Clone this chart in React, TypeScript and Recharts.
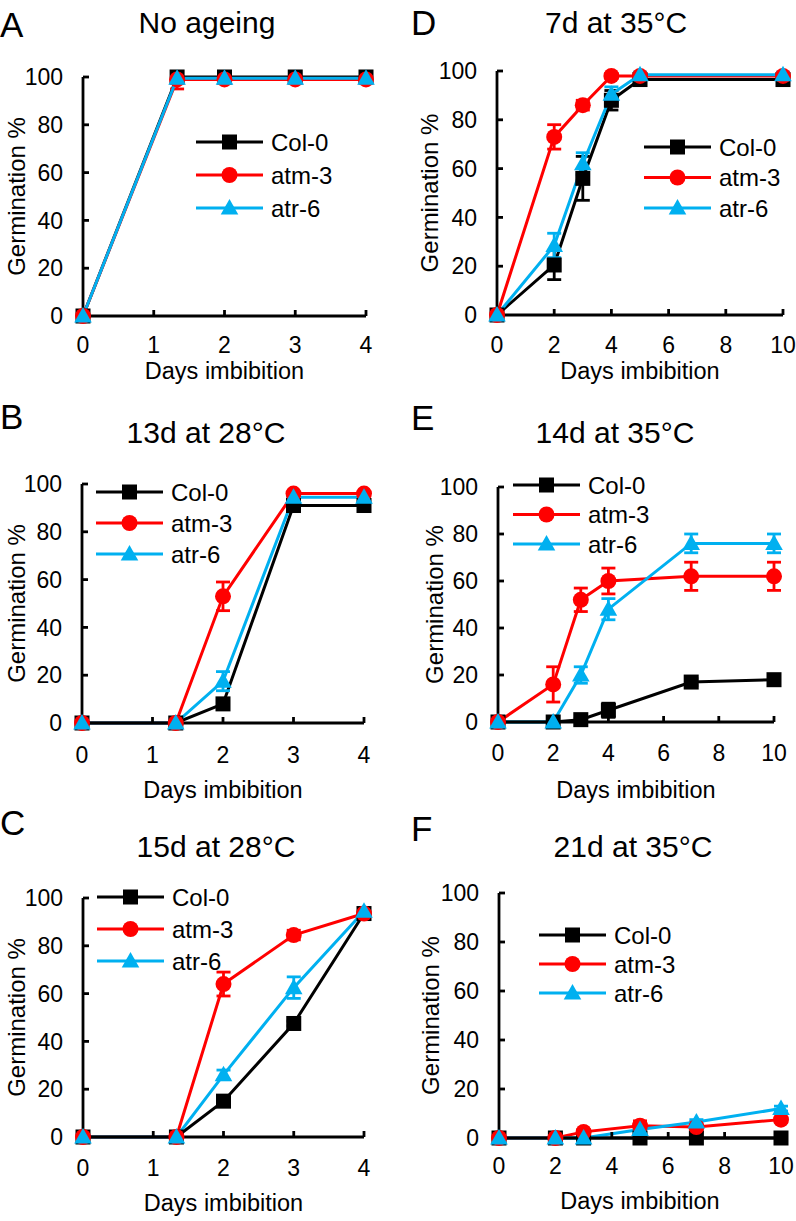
import React from 'react';
import { LineChart, Line, XAxis, YAxis, ErrorBar, Legend } from 'recharts';

const FONT = '"Liberation Sans", Arial, Helvetica, sans-serif';
const BLACK = '#000000';
const RED = '#ff0000';
const CYAN = '#00b0f0';

const seriesNames = ['Col-0', 'atm-3', 'atr-6'];
const yTicks = [0, 20, 40, 60, 80, 100];
const xTicksShort = [0, 1, 2, 3, 4];
const xTicksLong = [0, 2, 4, 6, 8, 10];
const yLabel = 'Germination %';
const xLabel = 'Days imbibition';

// Panel A – No ageing
const daysA = [0, 1.33, 2, 3, 4];
const col0A = [0, 100, 100, 100, 100];
const atm3A = [0, 99, 99, 99, 99];
const atr6A = [0, 99.5, 99.5, 99.5, 99.5];
const col0ErrA = [0, 0, 0, 0, 0];
const atm3ErrA = [0, [4, 1], 0, 0, 0];
const atr6ErrA = [0, 0, 0, 0, 0];

// Panel B – 13d at 28°C
const daysB = [0, 1.33, 2, 3, 4];
const col0B = [0, 0, 8, 91, 91];
const atm3B = [0, 0, 53, 96, 96];
const atr6B = [0, 0, 17.5, 94.5, 94.5];
const col0ErrB = [0, 0, 1, 1, 1];
const atm3ErrB = [0, 0, 6, 0.5, 0.5];
const atr6ErrB = [0, 0, 4, 0.5, 0.5];

// Panel C – 15d at 28°C
const daysC = [0, 1.33, 2, 3, 4];
const col0C = [0, 0, 15, 47.5, 93.5];
const atm3C = [0, 0, 64, 84.5, 93.5];
const atr6C = [0, 0, 26, 62.5, 94.5];
const col0ErrC = [0, 0, 1, 1, 1];
const atm3ErrC = [0, 0, 5, 2, 1];
const atr6ErrC = [0, 0, 2, 4.5, 1];

// Panel D – 7d at 35°C
const daysD = [0, 2, 3, 4, 5, 10];
const col0D = [0, 20.5, 56, 88, 96.5, 96.5];
const atm3D = [0, 73, 86, 98, 98, 98];
const atr6D = [0, 28.5, 62, 90.5, 98.5, 98.5];
const col0ErrD = [0, 6, 9, 4, 1, 1];
const atm3ErrD = [0, 5, 2, 1, 1, 1];
const atr6ErrD = [0, 5, 4.5, 3, 1, 1];

// Panel E – 14d at 35°C
const daysE = [0, 2, 3, 4, 7, 10];
const col0E = [0, 0, 1, 5, 17, 18];
const atm3E = [0, 16, 52, 60, 62, 62];
const atr6E = [0, 0, 20, 48, 76, 76];
const col0ErrE = [0, 0, 0.5, 3, 1.5, 1.5];
const atm3ErrE = [0, 7.5, 5, 5.5, 6, 6];
const atr6ErrE = [0, 0, 3.5, 4.5, 4, 4];

// Panel F – 21d at 35°C
const daysF = [0, 2, 3, 5, 7, 10];
const col0F = [0, 0, 0, 0, 0, 0];
const atm3F = [0, 0, 2.5, 5, 4.5, 7.5];
const atr6F = [0, 0, 0, 3.5, 6.5, 12];
const col0ErrF = [0, 0, 0, 0, 0, 0];
const atm3ErrF = [0, 0, 1, 2, 2, 1];
const atr6ErrF = [0, 0, 0, 1, 1, 1];

const buildTable = (days, c, m, r, ce, me, re) =>
  days.map((d, i) => ({
    day: d,
    col0: c[i],
    atm3: m[i],
    atr6: r[i],
    col0Err: ce[i],
    atm3Err: me[i],
    atr6Err: re[i],
  }));

const panels = [
  {
    letter: 'A', title: 'No ageing', xMax: 4, xTicks: xTicksShort,
    data: buildTable(daysA, col0A, atm3A, atr6A, col0ErrA, atm3ErrA, atr6ErrA),
    left: 0, top: 0, plot: { x0: 83, x1: 366, y0: 77, y1: 316 }, tickCap: 21,
    titlePos: { x: 207, y: 33 }, letterPos: { x: 0, y: 37 }, xLabelY: 379, yLabelX: 25,
    legend: { x: 196, y: 142, gap: 33 },
  },
  {
    letter: 'B', title: '13d at 28°C', xMax: 4, xTicks: xTicksShort,
    data: buildTable(daysB, col0B, atm3B, atr6B, col0ErrB, atm3ErrB, atr6ErrB),
    left: 0, top: 400, plot: { x0: 82, x1: 364, y0: 484, y1: 723 }, tickCap: 24,
    titlePos: { x: 206, y: 443 }, letterPos: { x: 0, y: 429 }, xLabelY: 798, yLabelX: 25,
    legend: { x: 96, y: 492, gap: 31 },
  },
  {
    letter: 'C', title: '15d at 28°C', xMax: 4, xTicks: xTicksShort,
    data: buildTable(daysC, col0C, atm3C, atr6C, col0ErrC, atm3ErrC, atr6ErrC),
    left: 0, top: 820, plot: { x0: 83, x1: 364, y0: 898, y1: 1137 }, tickCap: 23,
    titlePos: { x: 216, y: 857 }, letterPos: { x: 0, y: 835 }, xLabelY: 1211, yLabelX: 25,
    legend: { x: 97, y: 897, gap: 32 },
  },
  {
    letter: 'D', title: '7d at 35°C', xMax: 10, xTicks: xTicksLong,
    data: buildTable(daysD, col0D, atm3D, atr6D, col0ErrD, atm3ErrD, atr6ErrD),
    left: 398, top: 0, plot: { x0: 497, x1: 783, y0: 71, y1: 315 }, tickCap: 22,
    titlePos: { x: 616, y: 33 }, letterPos: { x: 411, y: 35 }, xLabelY: 379, yLabelX: 438,
    legend: { x: 644, y: 147, gap: 30.5 },
  },
  {
    letter: 'E', title: '14d at 35°C', xMax: 10, xTicks: xTicksLong,
    data: buildTable(daysE, col0E, atm3E, atr6E, col0ErrE, atm3ErrE, atr6ErrE),
    left: 398, top: 400, plot: { x0: 498, x1: 774, y0: 487, y1: 722 }, tickCap: 23,
    titlePos: { x: 615, y: 443 }, letterPos: { x: 411, y: 430 }, xLabelY: 798, yLabelX: 443,
    legend: { x: 513, y: 485, gap: 29.5 },
  },
  {
    letter: 'F', title: '21d at 35°C', xMax: 10, xTicks: xTicksLong,
    data: buildTable(daysF, col0F, atm3F, atr6F, col0ErrF, atm3ErrF, atr6ErrF),
    left: 398, top: 820, plot: { x0: 499, x1: 781, y0: 893, y1: 1138 }, tickCap: 20,
    titlePos: { x: 633, y: 857 }, letterPos: { x: 411, y: 841 }, xLabelY: 1209, yLabelX: 439,
    legend: { x: 539, y: 935, gap: 29 },
  },
];

const seriesDefs = [
  { key: 'col0', name: seriesNames[0], color: BLACK, shape: 'square' },
  { key: 'atm3', name: seriesNames[1], color: RED, shape: 'circle' },
  { key: 'atr6', name: seriesNames[2], color: CYAN, shape: 'triangle' },
];

function Marker({ shape, cx, cy, color }) {
  if (shape === 'square') {
    return <rect x={cx - 7.5} y={cy - 7.5} width={15} height={15} fill={color} />;
  }
  if (shape === 'circle') {
    return <circle cx={cx} cy={cy} r={8} fill={color} />;
  }
  return (
    <polygon
      points={`${cx},${cy - 9} ${cx - 8.8},${cy + 6.5} ${cx + 8.8},${cy + 6.5}`}
      fill={color}
    />
  );
}

const makeDot = (shape, color) => (props) => {
  const { cx, cy, index } = props;
  if (cx == null || cy == null || isNaN(cx) || isNaN(cy)) return <g key={`e${index}`} />;
  return (
    <g key={`d${index}`}>
      <Marker shape={shape} cx={cx} cy={cy} color={color} />
    </g>
  );
};

const TICK_FS = 23;

function XTick(props) {
  const { x, y, payload } = props;
  return (
    <text
      x={x}
      y={y}
      dy="0.71em"
      textAnchor="middle"
      fontSize={TICK_FS}
      fontFamily={FONT}
      fill="#000"
    >
      {payload.value}
    </text>
  );
}

function YTick(props) {
  const { x, y, payload } = props;
  return (
    <text
      x={x}
      y={y}
      dy="0.36em"
      textAnchor="end"
      fontSize={TICK_FS}
      fontFamily={FONT}
      fill="#000"
    >
      {payload.value}
    </text>
  );
}

function LegendBox({ gap }) {
  const lineLen = 67;
  return (
    <svg width={190} height={gap * 2 + 30} style={{ display: 'block', overflow: 'visible' }}>
      {seriesDefs.map((s, i) => {
        const y = 14 + i * gap;
        return (
          <g key={s.key}>
            <line x1={2} y1={y} x2={2 + lineLen} y2={y} stroke={s.color} strokeWidth={3} />
            <Marker shape={s.shape} cx={2 + lineLen / 2} cy={y} color={s.color} />
            <text
              x={2 + lineLen + 8}
              y={y + 8.5}
              fontSize={24}
              fontFamily={FONT}
              fill="#000"
            >
              {s.name}
            </text>
          </g>
        );
      })}
    </svg>
  );
}

function Panel({ p }) {
  const yAxisW = 60;
  const xAxisH = 48;
  const width = 398;
  const height = p.plot.y1 - p.top + xAxisH + 2;
  const margin = {
    top: p.plot.y0 - p.top,
    left: p.plot.x0 - p.left - yAxisW,
    right: p.left + width - p.plot.x1,
    bottom: 2,
  };
  const axisStyle = { stroke: '#000', strokeWidth: 2.8 };
  return (
    <div style={{ position: 'absolute', left: p.left, top: p.top, width, height }}>
      <LineChart width={width} height={height} data={p.data} margin={margin}>
        <XAxis
          type="number"
          dataKey="day"
          domain={[0, p.xMax]}
          ticks={p.xTicks}
          interval={0}
          height={xAxisH}
          tickSize={-6}
          tickMargin={p.tickCap + 6}
          axisLine={axisStyle}
          tickLine={axisStyle}
          tick={<XTick />}
        />
        <YAxis
          type="number"
          domain={[0, 100]}
          ticks={yTicks}
          interval={0}
          width={yAxisW}
          tickSize={-6}
          tickMargin={26}
          axisLine={axisStyle}
          tickLine={axisStyle}
          tick={<YTick />}
        />
        <Legend
          layout="vertical"
          align="center"
          verticalAlign="middle"
          wrapperStyle={{
            left: p.legend.x - p.left - 2,
            top: p.legend.y - p.top - 14,
            width: 190,
            height: p.legend.gap * 2 + 30,
          }}
          content={() => <LegendBox gap={p.legend.gap} />}
        />
        {seriesDefs.map((s) => (
          <Line
            key={s.key}
            type="linear"
            dataKey={s.key}
            name={s.name}
            stroke={s.color}
            strokeWidth={3}
            dot={makeDot(s.shape, s.color)}
            activeDot={false}
            isAnimationActive={false}
          >
            <ErrorBar
              dataKey={`${s.key}Err`}
              direction="y"
              width={7}
              stroke={s.color}
              strokeWidth={2.8}
              isAnimationActive={false}
            />
          </Line>
        ))}
      </LineChart>
    </div>
  );
}

function TextLayer() {
  return (
    <svg
      width={796}
      height={1221}
      style={{ position: 'absolute', left: 0, top: 0, pointerEvents: 'none' }}
    >
      {panels.map((p) => {
        const cxPlot = (p.plot.x0 + p.plot.x1) / 2;
        const cyPlot = (p.plot.y0 + p.plot.y1) / 2;
        return (
          <g key={p.letter} fontFamily={FONT} fill="#000">
            <text x={p.letterPos.x} y={p.letterPos.y} fontSize={35}>
              {p.letter}
            </text>
            <text x={p.titlePos.x} y={p.titlePos.y} fontSize={30} textAnchor="middle">
              {p.title}
            </text>
            <text x={cxPlot} y={p.xLabelY} fontSize={23.5} textAnchor="middle">
              {xLabel}
            </text>
            <text
              x={p.yLabelX}
              y={cyPlot}
              fontSize={24}
              textAnchor="middle"
              transform={`rotate(-90 ${p.yLabelX} ${cyPlot})`}
            >
              {yLabel}
            </text>
          </g>
        );
      })}
    </svg>
  );
}

export default function App() {
  return (
    <div
      style={{
        position: 'absolute',
        left: 0,
        top: 0,
        width: 796,
        height: 1221,
        background: '#fff',
        overflow: 'hidden',
      }}
    >
      {panels.map((p) => (
        <Panel key={p.letter} p={p} />
      ))}
      <TextLayer />
    </div>
  );
}
